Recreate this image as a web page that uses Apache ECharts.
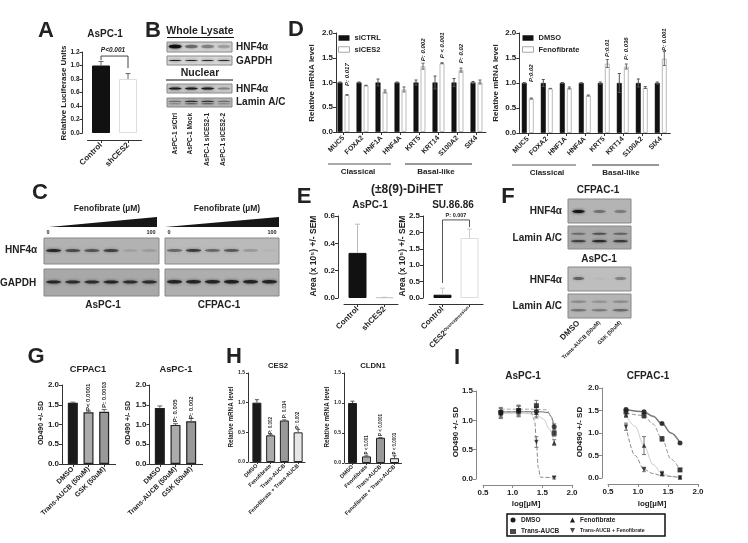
<!DOCTYPE html>
<html><head><meta charset="utf-8">
<style>html,body{margin:0;background:#fff}#c{width:748px;height:543px;filter:blur(0.45px)}</style>
<script src="https://cdn.jsdelivr.net/npm/echarts@6/dist/echarts.min.js"></script></head>
<body><div id="c"></div>
<script>
// ---------- data ----------
const aCats=['Control','shCES2'], aVals=[1.0,0.8], aErr=[0.06,0.08];
const dCats=['MUC5','FOXA2','HNF1A','HNF4A','KRT5','KRT14','S100A2','SIX4'];
const dCtrl=[1,1,1,1,1,1,1,1];
const dLeftCtrlErr=[0.01,0.01,0.07,0.01,0.05,0.13,0.08,0.02];
const dSiCES2=[0.75,0.94,0.82,0.86,1.33,1.39,1.25,1.01];
const dSiCES2Err=[0.005,0.005,0.03,0.05,0.06,0.01,0.04,0.04];
const dLeftP=[[0,0.93,'P: 0.017'],[4,1.43,'P: 0.002'],[5,1.49,'P < 0.001'],[6,1.39,'P: 0.02']];
const dRightCtrlErr=[0.01,0.07,0.01,0.005,0.02,0.19,0.08,0.02];
const dFeno=[0.69,0.89,0.90,0.75,1.39,1.33,0.91,1.49];
const dFenoErr=[0.01,0.003,0.02,0.01,0.08,0.05,0.02,0.14];
const dRightP=[[0,1.02,'P:0.02'],[4,1.52,'P:0.01'],[5,1.46,'P: 0.036'],[7,1.64,'P: 0.001']];
const e1Cats=['Control','shCES2'], e1Vals=[0.33,0.005], e1Err=[0.21,0];
const e2Cats=['Control','CES2 Overexpression'], e2Vals=[0.1,1.83], e2Err=[0.2,0.27];
const gCats=['DMSO','Trans-AUCB (50uM)','GSK (50uM)'];
const g1Vals=[1.55,1.31,1.32], g1Err=[0.015,0.03,0.06], g1P=[[1,1.34,'P< 0.0001'],[2,1.42,'P: 0.0003']];
const g2Vals=[1.42,0.99,1.08], g2Err=[0.05,0.03,0.07], g2P=[[1,1.06,'P: 0.005'],[2,1.14,'P: 0.002']];
const hCats=['DMSO','Fenofibrate','Trans-AUCB','Fenofibrate + Trans-AUCB'];
const h1Vals=[1.0,0.45,0.70,0.50], h1Err=[0.05,0.01,0.01,0.05], h1P=[[1,0.47,'P: 0.002'],[2,0.74,'P: 0.014'],[3,0.56,'P: 0.002']];
const h2Vals=[1.0,0.11,0.42,0.08], h2Err=[0.03,0.01,0.005,0.04], h2P=[[1,0.14,'P < 0.001'],[2,0.45,'P < 0.0001'],[3,0.14,'P < 0.0001']];
const iDoses=[0.8,1.1,1.4,1.7];
const iLeftDmso=[1.14,1.17,1.15,0.89], iLeftTrans=[1.13,1.16,1.25,0.78], iLeftFeno=[1.12,1.15,1.13,0.62], iLeftCombo=[1.10,1.17,0.63,0.02];
const iLeftErr=[0.08,0.09,0.09,0.05], iLeftComboErr=[0.07,0.07,0.09,0.02];
const iRightDmso=[1.52,1.47,1.21,0.78], iRightTrans=[1.47,1.39,0.87,0.18], iRightFeno=[1.40,0.72,0.10,0.01], iRightCombo=[1.14,0.19,0.09,0.01];
const iRightErr=[0.03,0.03,0.02,0.02], iRightTransErr=[0.07,0.06,0.05,0.03], iRightFenoErr=[0.05,0.2,0.05,0.01], iRightComboErr=[0.08,0.05,0.04,0.01];
const curveLeftDmso=[[0.8,1.14],[1.2,1.145],[1.5,1.145],[1.6,1.13],[1.65,1.06],[1.7,0.89]];
const curveLeftTrans=[[0.8,1.19],[1.3,1.19],[1.58,1.18],[1.64,1.08],[1.7,0.78]];
const curveLeftFeno=[[0.8,1.12],[1.2,1.12],[1.4,1.10],[1.52,1.02],[1.62,0.85],[1.7,0.62]];
const curveLeftCombo=[[0.8,1.15],[1.3,1.15],[1.37,1.0],[1.4,0.63],[1.43,0.2],[1.47,0.03],[1.7,0.02]];
const curveRightDmso=[[0.8,1.52],[1.1,1.47],[1.25,1.37],[1.4,1.21],[1.55,1.0],[1.7,0.78]];
const curveRightTrans=[[0.8,1.44],[1.1,1.39],[1.25,1.2],[1.4,0.87],[1.55,0.42],[1.7,0.18]];
const curveRightFeno=[[0.8,1.40],[0.95,1.15],[1.1,0.72],[1.25,0.3],[1.4,0.10],[1.55,0.03],[1.7,0.01]];
const curveRightCombo=[[0.8,1.14],[0.95,0.5],[1.1,0.19],[1.25,0.1],[1.4,0.05],[1.7,0.01]];
// western-blot band intensities (one value per lane)
const bWhole=[0.98,0.45,0.35,0.22], bGapdh=[0.9,0.85,0.85,0.85], bNuc=[0.9,0.9,0.9,0.35], bLamU=[0.4,0.75,0.7,0.4], bLamL=[0.3,0.55,0.55,0.3];
const cHnfA=[0.75,0.55,0.5,0.6,0.1,0.12], cGapA=[0.75,0.72,0.72,0.78,0.72,0.72];
const cHnfC=[0.42,0.65,0.42,0.5,0.18,0.03], cGapC=[0.78,0.78,0.78,0.82,0.78,0.78];
const fHnfC=[0.9,0.35,0.3], fLamCU=[0.35,0.5,0.4], fLamCL=[0.6,0.75,0.65];
const fHnfA=[0.45,0.03,0.3], fLamAU=[0.22,0.18,0.22], fLamAL=[0.35,0.3,0.4];

// ---------- helpers ----------
const FF='"Liberation Sans",Arial,sans-serif', INK='#222';
const grid=[],xAxis=[],yAxis=[],series=[],graphic=[],legend=[];
function T(x,y,text,size,o){o=o||{};graphic.push({type:'text',x:x,y:y,rotation:(o.rot||0)*Math.PI/180,silent:true,
  style:{text:text,fill:o.color||INK,textAlign:o.align||'center',textVerticalAlign:'middle',
  font:(o.style||'')+' '+(o.weight||'bold')+' '+size+'px '+FF}});}
function R(x1,y1,x2,y2,w,c){graphic.push({type:'line',silent:true,shape:{x1,y1,x2,y2},style:{stroke:c||'#333',lineWidth:w||1}});}
function box(b){return {left:b[0],top:b[1],width:b[2]-b[0],height:b[3]-b[1]};}
function yA(gi,o){return {type:'value',gridIndex:gi,min:o.min,max:o.max,interval:o.interval,offset:o.yOffset||0,
  splitLine:{show:false},axisLine:{show:true,onZero:false,lineStyle:{color:'#333',width:o.lw||1}},
  axisTick:{show:true,length:o.tick||3,lineStyle:{color:'#333',width:o.lw||1}},
  axisLabel:{margin:o.yMargin||3,fontFamily:FF,fontWeight:'bold',fontSize:o.yFont||8,color:INK,formatter:v=>v.toFixed(1)}};}
function errSeries(gi,vals,errs,shift,color,both,w,xs){
  series.push({type:'custom',xAxisIndex:gi,yAxisIndex:gi,silent:true,clip:false,z:4,
    data:vals.map((v,i)=>[xs?xs[i]:i,v-(both?errs[i]:0),v+errs[i]]),encode:{x:0,y:[1,2]},
    renderItem:(p,api)=>{const a=api.coord([api.value(0),api.value(1)]),b=api.coord([api.value(0),api.value(2)]);
      const x=a[0]+shift,c=w||2.5,ls={stroke:color,lineWidth:1};
      return {type:'group',children:[
        {type:'line',shape:{x1:x,y1:a[1],x2:x,y2:b[1]},style:ls},
        {type:'line',shape:{x1:x-c,y1:b[1],x2:x+c,y2:b[1]},style:ls}].concat(both?[{type:'line',shape:{x1:x-c,y1:a[1],x2:x+c,y2:a[1]},style:ls}]:[])};}});
}
function pLabels(gi,rows,shift,size,style){
  series.push({type:'custom',xAxisIndex:gi,yAxisIndex:gi,silent:true,clip:false,z:5,
    data:rows.map(r=>[r[0],r[1]]),encode:{x:0,y:1},
    renderItem:(p,api)=>{const a=api.coord([api.value(0),api.value(1)]);
      return {type:'text',x:a[0]+shift,y:a[1],rotation:Math.PI/2,
        style:{text:rows[p.dataIndex][2],textAlign:'left',textVerticalAlign:'middle',fill:INK,
        font:(style||'')+' bold '+size+'px '+FF}};}});
}
function poly(gi,pts,color){series.push({type:'line',xAxisIndex:gi,yAxisIndex:gi,data:pts,symbol:'none',clip:false,silent:true,z:3,
  lineStyle:{color:color||'#444',width:1}});}
function barPanel(o){
  const gi=grid.length;grid.push(box(o.box));
  xAxis.push({type:'category',gridIndex:gi,data:o.cats,offset:o.xOffset||0,
    axisLine:{onZero:false,lineStyle:{color:'#333',width:o.lw||1}},axisTick:{show:true,alignWithLabel:true,length:o.tick||3,lineStyle:{color:'#333',width:o.lw||1}},
    axisLabel:Object.assign({interval:0,rotate:45,margin:o.xMargin||4,fontFamily:FF,fontWeight:'bold',fontSize:o.xFont||8,color:INK},o.xLabel||{})});
  yAxis.push(yA(gi,o));
  o.bars.forEach(b=>{series.push({type:'bar',name:b.name,xAxisIndex:gi,yAxisIndex:gi,barWidth:o.barWidth,barGap:o.barGap||'0%',silent:true,
    data:b.values.map((v,i)=>({value:v,itemStyle:{color:Array.isArray(b.color)?b.color[i]:b.color,borderColor:b.border,borderWidth:b.bw==null?1:b.bw}}))});});
  return gi;
}
function blot(b,lanes,rows,o){
  o=o||{};const gi=grid.length;
  grid.push(Object.assign(box(b),{show:true,backgroundColor:o.bg||'#c6c6c6',borderColor:o.edge||'#888',borderWidth:1}));
  xAxis.push(o.labels?{type:'category',gridIndex:gi,data:lanes,axisLine:{show:false},axisTick:{show:false},axisLabel:{interval:0,rotate:45,margin:4,fontFamily:FF,fontWeight:'bold',fontSize:6.5,color:INK}}
    :{type:'category',gridIndex:gi,data:lanes,show:false});
  yAxis.push({type:'value',gridIndex:gi,min:0,max:1,show:false});
  const data=[];rows.forEach(r=>r.values.forEach((v,i)=>data.push([i,r.y,v])));
  const rx=o.rx||0.4,ry=o.ry||1.6,laneW=(b[2]-b[0])/lanes.length;
  series.push({type:'custom',xAxisIndex:gi,yAxisIndex:gi,silent:true,data:data,encode:{x:0,y:1},
    renderItem:(p,api)=>{const a=api.coord([api.value(0),api.value(1)]),v=api.value(2),c='rgba(15,15,15,'+v+')';
      return {type:'ellipse',shape:{cx:a[0],cy:a[1],rx:laneW*rx,ry:ry},style:{fill:c,shadowBlur:3,shadowColor:c}};}});
  return gi;
}
function dose(gi,name,vals,errs,sym,size,rot,errColor){
  errSeries(gi,vals,errs,0,errColor||'#777',true,2,iDoses);
  series.push({type:'scatter',name:name,xAxisIndex:gi,yAxisIndex:gi,data:vals.map((v,i)=>[iDoses[i],v]),symbol:sym,symbolSize:size,symbolRotate:rot||0,silent:true,clip:false,z:6,itemStyle:{color:'#1c1c1c'}});
}
function curve(gi,pts,color,type,w){series.push({type:'line',xAxisIndex:gi,yAxisIndex:gi,data:pts,smooth:0.35,smoothMonotone:'x',symbol:'none',clip:false,silent:true,z:2,
  lineStyle:{color:color,type:type||'solid',width:w||1}});}

// ---------- panel letters ----------
[['A',46,31],['B',153,31],['C',40,193],['D',296,30],['E',304,197],['F',508,197],['G',36,357],['H',234,357],['I',457,358]]
  .forEach(l=>T(l[1],l[2],l[0],22));

// ---------- A ----------
T(105,34,'AsPC-1',10);
T(64,93,'Relative Luciferase Units',8,{rot:90});
T(113,50,'P<0.001',6.5,{style:'italic'});
let gi=barPanel({box:[87.5,52,141.5,133],min:0,max:1.2,interval:0.2,yOffset:5,xOffset:7,barWidth:18,yFont:6.5,xFont:8,
  cats:aCats,bars:[{values:aVals,color:['#111','#fff'],border:'#ddd'}]});
series[series.length-1].data[0].itemStyle.borderColor='#111';
errSeries(gi,aVals,aErr,0,'#666');
poly(gi,[[0,1.08],[0,1.14],[1,1.14],[1,0.96]]);

// ---------- B ----------
T(200,31,'Whole Lysate',10.5);R(167,37.5,234,37.5,1,'#111');
T(200,73,'Nuclear',10.5);R(166,80,233,80,1,'#111');
const bLanes=['AsPC-1 siCtrl','AsPC-1 Mock','AsPC-1 siCES2-1','AsPC-1 siCES2-2'];
blot([167,42,232,52],bLanes,[{y:0.55,values:bWhole}],{bg:'#cfcfcf',ry:1.8});
blot([167,56,232,65],bLanes,[{y:0.5,values:bGapdh}],{bg:'#d8d8d8',ry:0.6});
blot([167,84,232,93],bLanes,[{y:0.5,values:bNuc}],{bg:'#c8c8c8',ry:1.1});
blot([167,98,232,107],bLanes,[{y:0.62,values:bLamU},{y:0.36,values:bLamL}],{bg:'#b4b4b4',ry:0.6});
[['HNF4α',47],['GAPDH',61],['HNF4α',89],['Lamin A/C',102]].forEach(r=>T(236,r[1],r[0],10,{align:'left'}));
[175,190,207,223].forEach((x,i)=>T(x,113,bLanes[i],6.5,{rot:90,align:'right'}));

// ---------- C ----------
const cLanes=['1','2','3','4','5','6'];
T(107,209,'Fenofibrate (µM)',8.5);T(227,209,'Fenofibrate (µM)',8.5);
graphic.push({type:'polygon',silent:true,shape:{points:[[49,227],[157,217],[157,227]]},style:{fill:'#161616'}});
graphic.push({type:'polygon',silent:true,shape:{points:[[165,227],[279,217],[279,227]]},style:{fill:'#161616'}});
T(48,232,'0',5.5);T(151,232,'100',5.5);T(169,232,'0',5.5);T(272,232,'100',5.5);
blot([44,238,159,264],cLanes,[{y:0.52,values:cHnfA}],{ry:1.6,bg:'#b2b2b2'});
blot([44,269,159,296],cLanes,[{y:0.52,values:cGapA}],{ry:1.5,bg:'#a8a8a8'});
blot([165,238,279,264],cLanes,[{y:0.52,values:cHnfC}],{ry:1.4,bg:'#bababa'});
blot([165,269,279,296],cLanes,[{y:0.53,values:cGapC}],{ry:1.8,bg:'#aeaeae'});
T(5,250,'HNF4α',10,{align:'left'});T(0,283,'GAPDH',10,{align:'left'});
T(103,305,'AsPC-1',10);T(219,305,'CFPAC-1',10);

// ---------- D ----------
function dPanel(b,yOff,ctrlName,treatName,treat,treatErr,ctrlErr,pRows,titleX,legendLeft,classical,basal){
  const g=barPanel({box:b,min:0,max:2,interval:0.5,yOffset:yOff,xFont:7,barWidth:5,barGap:'40%',yFont:8,xMargin:5,cats:dCats,
    bars:[{name:ctrlName,values:dCtrl,color:'#111',border:'#111',bw:0.5},{name:treatName,values:treat,color:'#fff',border:'#bbb',bw:1}]});
  errSeries(g,dCtrl,ctrlErr,-3.5,'#555',true,1.5);
  errSeries(g,treat,treatErr,3.5,'#666',true,1.5);
  pLabels(g,pRows,3.5,6,'italic');
  T(titleX,83,'Relative mRNA level',8,{rot:90});
  legend.push({orient:'vertical',left:legendLeft,top:b[1]+1,padding:0,itemWidth:11,itemHeight:5.5,itemGap:3.5,selectedMode:false,
    textStyle:{fontFamily:FF,fontWeight:'bold',fontSize:7.5,color:INK},
    data:[{name:ctrlName,icon:'rect',itemStyle:{color:'#111',borderWidth:0}},{name:treatName,icon:'rect',itemStyle:{color:'#fff',borderColor:'#aaa',borderWidth:1}}]});
  R(classical[0],classical[1],classical[2],classical[1],1,'#555');T(classical[3],classical[1]+8,'Classical',8);
  R(basal[0],basal[1],basal[2],basal[1],1,'#333');T(basal[3],basal[1]+8,'Basal-like',8);
}
dPanel([334,33,486,132],-2,'siCTRL','siCES2',dSiCES2,dSiCES2Err,dLeftCtrlErr,dLeftP,312,338,[328,164,391,358],[405,164,472,436]);
dPanel([518.3,33,670.3,133],-1,'DMSO','Fenofibrate',dFeno,dFenoErr,dRightCtrlErr,dRightP,496,522,[512,165,576,547],[592,165,659,621]);

// ---------- E ----------
T(407,190,'(±8(9)-DiHET',12);T(370,205,'AsPC-1',10);T(453,205,'SU.86.86',10);
T(314,256,'Area (x 10⁵) +/- SEM',8.5,{rot:90});T(403,256,'Area (x 10⁵) +/- SEM',8.5,{rot:90});
gi=barPanel({box:[344,216,398,298],min:0,max:0.6,interval:0.2,yOffset:6,xOffset:6,barWidth:18,yFont:8,xFont:8,tick:3,
  cats:e1Cats,bars:[{values:e1Vals,color:['#111','#ddd'],border:'#ccc'}]});
series[series.length-1].data[0].itemStyle.borderColor='#111';
errSeries(gi,e1Vals,e1Err,0,'#bbb');
gi=barPanel({box:[429,216,483,298],min:0,max:2.5,interval:0.5,yOffset:6,xOffset:6,barWidth:18,yFont:8,xFont:8,
  xLabel:{formatter:v=>v.indexOf('CES2')===0?'CES2{s|Overexpression}':v,rich:{s:{fontFamily:FF,fontWeight:'bold',fontSize:4.5,color:INK,verticalAlign:'top'}}},
  cats:e2Cats,bars:[{values:e2Vals,color:['#111','#fff'],border:'#ddd'}]});
series[series.length-1].data[0].itemStyle.borderColor='#111';
errSeries(gi,e2Vals,e2Err,0,'#ccc');
poly(gi,[[0,0.46],[0,2.38],[1,2.38],[1,2.16]],'#555');
T(456,215,'P: 0.007',5.5);

// ---------- F ----------
const fLanes=['DMSO','Trans-AUCB (50uM)','GSK (50uM)'];
const fLabelData=[{value:'DMSO',textStyle:{fontSize:8}},{value:'Trans-AUCB (50uM)',textStyle:{fontSize:5.5}},{value:'GSK (50uM)',textStyle:{fontSize:5.5}}];
T(598,190,'CFPAC-1',10);T(599,259,'AsPC-1',10);
blot([568,199,631,223],fLanes,[{y:0.48,values:fHnfC}],{rx:0.3,ry:1.5,bg:'#b4b4b4'});
blot([568,226,631,249],fLanes,[{y:0.66,values:fLamCU},{y:0.34,values:fLamCL}],{rx:0.36,ry:1.1,bg:'#a8a8a8'});
blot([568,267,631,291],fLanes,[{y:0.52,values:fHnfA}],{rx:0.28,ry:1.5,bg:'#bebebe'});
blot([568,294,631,318],fLanes.map((n,i)=>fLabelData[i]),[{y:0.68,values:fLamAU},{y:0.32,values:fLamAL}],{rx:0.38,ry:1.2,bg:'#b4b4b4',labels:true});
[['HNF4α',211],['Lamin A/C',238],['HNF4α',280],['Lamin A/C',306]].forEach(r=>T(562,r[1],r[0],10,{align:'right'}));

// ---------- G ----------
const gCols=['#1a1a1a','#ababab','#999999'];
T(88,369,'CFPAC1',9.3);T(176,369,'AsPC-1',9.3);
T(41,423,'OD490 +/- SD',7,{rot:90});T(128,423,'OD490 +/- SD',7,{rot:90});
gi=barPanel({box:[65,385,112,464],min:0,max:2,interval:0.5,yOffset:3,barWidth:10,yFont:8,xFont:7,cats:gCats,lw:1,
  bars:[{values:g1Vals,color:gCols,border:'#222',bw:1.2}]});
errSeries(gi,g1Vals,g1Err,0,'#666');pLabels(gi,g1P,0,6);R(62,464.5,65,464.5);R(112,464.5,116,464.5);
gi=barPanel({box:[152,385,199,464],min:0,max:2,interval:0.5,yOffset:2.5,barWidth:10,yFont:8,xFont:7,cats:gCats,
  bars:[{values:g2Vals,color:gCols,border:'#222',bw:1.2}]});
errSeries(gi,g2Vals,g2Err,0,'#666');pLabels(gi,g2P,0,6);R(149.5,464.5,152,464.5);R(199,464.5,203,464.5);

// ---------- H ----------
const hCols=['#1a1a1a','#ababab','#999999','#e6e6e6'];
T(278,366,'CES2',7.7);T(373,366,'CLDN1',7.7);
T(231,417,'Relative mRNA level',6.3,{rot:90});T(327,417,'Relative mRNA level',6.3,{rot:90});
gi=barPanel({box:[250,373,305,462],min:0,max:1.5,interval:0.5,yOffset:2,barWidth:9,yFont:5,xFont:5.5,xMargin:3,tick:2,cats:hCats,
  bars:[{values:h1Vals,color:hCols,border:'#222',bw:1}]});
errSeries(gi,h1Vals,h1Err,0,'#555',false,2);pLabels(gi,h1P,0,4.5);
gi=barPanel({box:[345.5,373,401.5,463],min:0,max:1.5,interval:0.5,yOffset:1.5,barWidth:9,yFont:5,xFont:5.5,xMargin:3,tick:2,cats:hCats,
  bars:[{values:h2Vals,color:hCols,border:'#222',bw:1}]});
errSeries(gi,h2Vals,h2Err,0,'#555',false,2);pLabels(gi,h2P,0,4.5);

// ---------- I ----------
function iAxes(b,yMax,yOff,xOff){
  const g=grid.length;grid.push(box(b));
  xAxis.push({type:'value',gridIndex:g,min:0.5,max:2,interval:0.5,offset:xOff,splitLine:{show:false},
    axisLine:{onZero:false,lineStyle:{color:'#888',width:1}},axisTick:{show:true,length:3,lineStyle:{color:'#888'}},
    axisLabel:{margin:4,fontFamily:FF,fontWeight:'bold',fontSize:8,color:INK,formatter:v=>v.toFixed(1)}});
  yAxis.push(yA(g,{min:0,max:yMax,interval:0.5,yOffset:yOff,yFont:8}));
  yAxis[g].axisLine.lineStyle.color='#888';yAxis[g].axisTick.lineStyle.color='#888';
  return g;
}
T(523,376,'AsPC-1',10);T(648,376,'CFPAC-1',10);
T(526,504,'log[µM]',8);T(652,504,'log[µM]',8);
T(456,432,'OD490 +/- SD',8,{rot:90});T(580,432,'OD490 +/- SD',8,{rot:90});
const NAMES=['DMSO','Trans-AUCB','Fenofibrate','Trans-AUCB + Fenofibrate'];
const downTri='path://M0,0L10,0L5,10Z';
gi=iAxes([483,391,572,479],1.5,7,6);
curve(gi,curveLeftDmso,'#666');curve(gi,curveLeftTrans,'#aaa','dashed');curve(gi,curveLeftFeno,'#ccc');curve(gi,curveLeftCombo,'#888','dashed');
dose(gi,NAMES[0],iLeftDmso,iLeftErr,'circle',5);dose(gi,NAMES[1],iLeftTrans,iLeftErr,'rect',5);dose(gi,NAMES[2],iLeftFeno,iLeftErr,'triangle',4.5);dose(gi,NAMES[3],iLeftCombo,iLeftComboErr,downTri,4.5);
gi=iAxes([608,388,698,478],2,6,6);
curve(gi,curveRightDmso,'#777',null,1.5);curve(gi,curveRightTrans,'#999','dashed');curve(gi,curveRightFeno,'#ccc');curve(gi,curveRightCombo,'#888','dashed');
dose(gi,NAMES[0],iRightDmso,iRightErr,'circle',5);dose(gi,NAMES[1],iRightTrans,iRightTransErr,'rect',5);dose(gi,NAMES[2],iRightFeno,iRightFenoErr,'triangle',4.5);dose(gi,NAMES[3],iRightCombo,iRightComboErr,downTri,4.5);
graphic.push({type:'rect',silent:true,shape:{x:507,y:514,width:158,height:22},style:{fill:'none',stroke:'#111',lineWidth:1.5}});
const lgText={fontFamily:FF,fontWeight:'bold',fontSize:6.5,color:INK};
legend.push({orient:'vertical',left:510,top:516.5,padding:0,itemWidth:6,itemHeight:5,itemGap:4.5,selectedMode:false,textStyle:lgText,
  data:[{name:NAMES[0],icon:'circle',itemStyle:{color:'#1c1c1c'}},{name:NAMES[1],icon:'rect',itemStyle:{color:'#1c1c1c'}}]});
legend.push({orient:'vertical',left:570,top:516.5,padding:0,itemWidth:5,itemHeight:5,itemGap:4.5,selectedMode:false,textStyle:lgText,
  data:[{name:NAMES[2],icon:'triangle',itemStyle:{color:'#1c1c1c'}},{name:NAMES[3],icon:downTri,itemStyle:{color:'#1c1c1c'},textStyle:{fontSize:5.2}}]});

const chart=echarts.init(document.getElementById('c'),null,{renderer:'canvas',width:748,height:543});
chart.setOption({animation:false,backgroundColor:'#fff',tooltip:{show:false},grid,xAxis,yAxis,series,legend,graphic:{elements:graphic}});
</script></body></html>
